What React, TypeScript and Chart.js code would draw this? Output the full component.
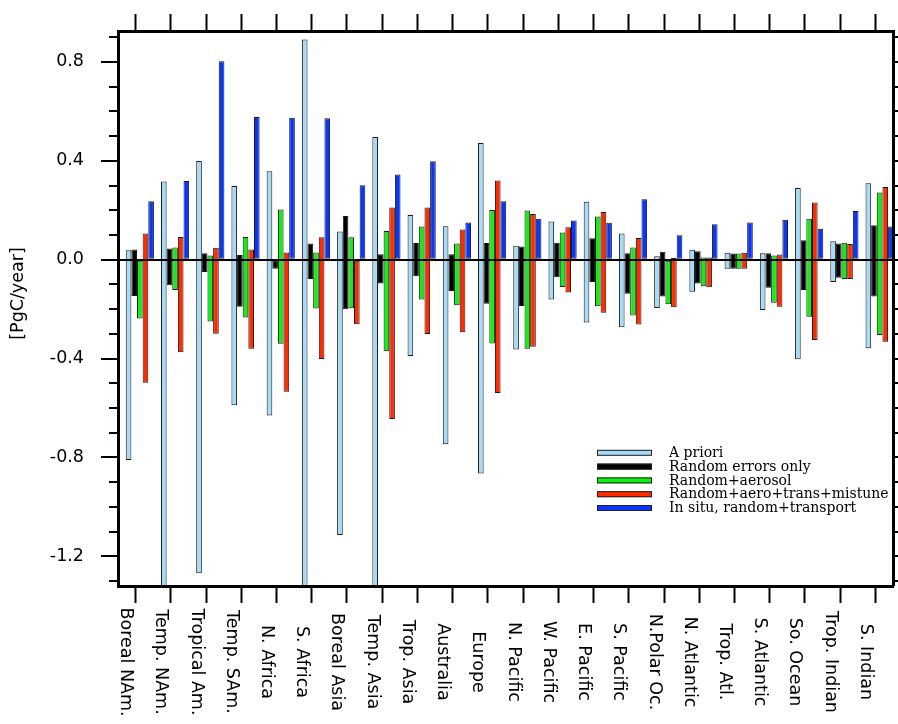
import React, { useEffect, useRef } from 'react';
import { Chart, registerables } from 'chart.js';

Chart.register(...registerables);

// ---------------- data ----------------
const CATEGORIES = [
  'Boreal NAm.', 'Temp. NAm.', 'Tropical Am.', 'Temp. SAm.', 'N. Africa', 'S. Africa',
  'Boreal Asia', 'Temp. Asia', 'Trop. Asia', 'Australia', 'Europe', 'N. Pacific',
  'W. Pacific', 'E. Pacific', 'S. Pacific', 'N.Polar Oc.', 'N. Atlantic', 'Trop. Atl.',
  'S. Atlantic', 'So. Ocean', 'Trop. Indian', 'S. Indian',
];

const SERIES_LABELS = [
  'A priori',
  'Random errors only',
  'Random+aerosol',
  'Random+aero+trans+mistune',
  'In situ, random+transport',
];

const APRIORI_HIGH = [0.038, 0.316, 0.399, 0.298, 0.358, 0.891, 0.114, 0.496, 0.181, 0.135, 0.472, 0.056, 0.154, 0.234, 0.106, 0.014, 0.040, 0.028, 0.026, 0.290, 0.075, 0.309];
const APRIORI_LOW = [-0.81, -1.5, -1.268, -0.589, -0.63, -1.5, -1.114, -1.5, -0.39, -0.747, -0.865, -0.363, -0.161, -0.254, -0.273, -0.195, -0.13, -0.037, -0.204, -0.403, -0.09, -0.358];

const RANDOM_HIGH = [0.041, 0.045, 0.026, 0.019, 0.0, 0.065, 0.177, 0.022, 0.067, 0.022, 0.067, 0.053, 0.068, 0.087, 0.026, 0.032, 0.034, 0.025, 0.026, 0.079, 0.065, 0.139];
const RANDOM_LOW = [-0.147, -0.103, -0.05, -0.19, -0.037, -0.078, -0.201, -0.096, -0.067, -0.127, -0.178, -0.187, -0.071, -0.09, -0.138, -0.149, -0.096, -0.037, -0.114, -0.123, -0.073, -0.149];

const AEROSOL_HIGH = [0.0, 0.049, 0.017, 0.092, 0.203, 0.029, 0.091, 0.116, 0.134, 0.065, 0.201, 0.199, 0.11, 0.175, 0.049, 0.0, 0.009, 0.025, 0.017, 0.166, 0.068, 0.272];
const AEROSOL_LOW = [-0.238, -0.123, -0.25, -0.234, -0.34, -0.197, -0.196, -0.37, -0.161, -0.184, -0.339, -0.36, -0.111, -0.188, -0.226, -0.18, -0.107, -0.037, -0.174, -0.231, -0.078, -0.305];

const FULL_HIGH = [0.106, 0.092, 0.048, 0.041, 0.029, 0.091, 0.0, 0.211, 0.211, 0.122, 0.32, 0.185, 0.131, 0.193, 0.088, 0.007, 0.009, 0.028, 0.021, 0.231, 0.063, 0.294];
const FULL_LOW = [-0.498, -0.374, -0.30, -0.36, -0.534, -0.402, -0.261, -0.644, -0.301, -0.294, -0.539, -0.352, -0.133, -0.215, -0.262, -0.192, -0.112, -0.037, -0.19, -0.325, -0.078, -0.332];

const INSITU_HIGH = [0.236, 0.318, 0.803, 0.577, 0.574, 0.572, 0.301, 0.345, 0.398, 0.15, 0.236, 0.166, 0.158, 0.149, 0.244, 0.099, 0.143, 0.15, 0.162, 0.125, 0.197, 0.134];
const INSITU_LOW = [0, 0, 0, 0, 0, 0, 0, 0, 0, 0, 0, 0, 0, 0, 0, 0, 0, 0, 0, 0, 0, 0];

const Y_MIN = -1.32;
const Y_MAX = 0.925;

// ---------------- styles ----------------
const COLORS = ['#a6daf6', '#000000', '#11ee11', '#ff2a00', '#0a35ff'];
const GROUP_SHIFT = 0.12; // groups sit slightly right of their tick
const SANS = '"DejaVu Sans", sans-serif';
const SERIF = '"DejaVu Serif", serif';

const LOWS = [APRIORI_LOW, RANDOM_LOW, AEROSOL_LOW, FULL_LOW, INSITU_LOW];
const HIGHS = [APRIORI_HIGH, RANDOM_HIGH, AEROSOL_HIGH, FULL_HIGH, INSITU_HIGH];

const textPlugin = {
  id: 'customText',
  afterDraw(chart: any) {
    const ctx = chart.ctx as CanvasRenderingContext2D;
    const xs = chart.scales.x;
    const area = chart.chartArea;
    ctx.save();
    ctx.fillStyle = '#000';

    // category labels, rotated clockwise
    ctx.font = `17.5px ${SANS}`;
    ctx.textAlign = 'center';
    ctx.textBaseline = 'alphabetic';
    CATEGORIES.forEach((lab, i) => {
      const px = xs.getPixelForValue(i);
      ctx.save();
      ctx.translate(px - 14.5, 662);
      ctx.rotate(Math.PI / 2);
      ctx.fillText(lab, 0, 0);
      ctx.restore();
    });

    // y-axis title
    ctx.save();
    ctx.translate(22.5, 293.5);
    ctx.rotate(-Math.PI / 2);
    ctx.fillText('[PgC/year]', 0, 0);
    ctx.restore();

    // legend inside plot
    const bx = area.right - 296;
    const by0 = area.top + 421.8;
    const step = 13.8;
    ctx.font = `14px ${SERIF}`;
    ctx.textAlign = 'left';
    ctx.textBaseline = 'middle';
    chart.data.datasets.forEach((ds: any, i: number) => {
      const cy = by0 + i * step;
      ctx.fillStyle = ds.backgroundColor;
      ctx.fillRect(bx, cy - 3, 55, 6);
      ctx.lineWidth = 1;
      ctx.strokeStyle = '#222';
      ctx.strokeRect(bx + 0.5, cy - 2.5, 54, 5);
      ctx.fillStyle = '#000';
      ctx.fillText(ds.label, bx + 72, cy + 0.5);
    });
    ctx.restore();
  },
};

function xAxis(position: 'top' | 'bottom', height: number) {
  return {
    type: 'linear',
    position,
    min: -0.5,
    max: 21.5,
    offset: false,
    ticks: { display: false, stepSize: 1, includeBounds: false },
    afterBuildTicks: (s: any) => {
      s.ticks = CATEGORIES.map((_, i) => ({ value: i }));
    },
    grid: {
      offset: false,
      drawOnChartArea: false,
      drawTicks: true,
      tickLength: 17,
      tickWidth: 2,
      tickColor: '#000',
      z: 1,
    },
    border: { display: true, color: '#000', width: 3, z: 1 },
    afterFit: (s: any) => {
      s.height = height;
    },
  };
}

function yAxis(position: 'left' | 'right', step: number, tickLength: number, width: number, weight: number, major: boolean, labels: boolean) {
  return {
    type: 'linear',
    position,
    min: Y_MIN,
    max: Y_MAX,
    weight,
    ticks: {
      display: labels,
      stepSize: step,
      includeBounds: false,
      padding: 17,
      color: '#000',
      font: { family: SANS, size: 17.5 },
      callback: (v: any) => Number(v).toFixed(1),
    },
    grid: {
      drawOnChartArea: labels,
      color: (c: any) => (c.tick && Math.abs(c.tick.value) < 1e-9 ? '#000' : 'rgba(0,0,0,0)'),
      lineWidth: (c: any) => (c.tick && Math.abs(c.tick.value) < 1e-9 ? 2 : 0),
      drawTicks: true,
      tickLength,
      tickWidth: 2,
      tickColor: '#000',
      z: 1,
    },
    border: { display: major, color: '#000', width: 3, z: 1 },
    afterFit: (s: any) => {
      s.width = width;
    },
  };
}

export default function App() {
  const ref = useRef<HTMLCanvasElement>(null);

  useEffect(() => {
    if (!ref.current) return;
    const datasets = SERIES_LABELS.map((label, k) => ({
      label,
      data: CATEGORIES.map((_, i) => ({ x: i + GROUP_SHIFT, y: [LOWS[k][i], HIGHS[k][i]] })),
      backgroundColor: COLORS[k],
      borderColor: '#1a1a1a',
      borderWidth: 1,
      borderSkipped: false,
      categoryPercentage: 0.8,
      barPercentage: 1.0,
      xAxisID: 'x',
      yAxisID: 'y',
    }));

    const chart = new Chart(ref.current, {
      type: 'bar',
      data: { datasets } as any,
      options: {
        responsive: false,
        animation: false,
        events: [],
        layout: { padding: 0 },
        plugins: {
          legend: { display: false },
          tooltip: { enabled: false },
        },
        scales: {
          x: xAxis('bottom', 138),
          xTop: xAxis('top', 31),
          y: yAxis('left', 0.4, 17, 118, 1, true, true),
          yMinor: yAxis('left', 0.1, 9, 0, 0, false, false),
          yRight: yAxis('right', 0.4, 17, 5, 1, true, false),
          yRightMinor: yAxis('right', 0.1, 9, 0, 0, false, false),
        } as any,
      },
      plugins: [textPlugin],
    } as any);
    return () => chart.destroy();
  }, []);

  return (
    <div style={{ position: 'absolute', left: 0, top: 0, width: 898, height: 724, background: '#fff' }}>
      <canvas ref={ref} width={898} height={724} style={{ display: 'block', width: 898, height: 724 }} />
    </div>
  );
}
